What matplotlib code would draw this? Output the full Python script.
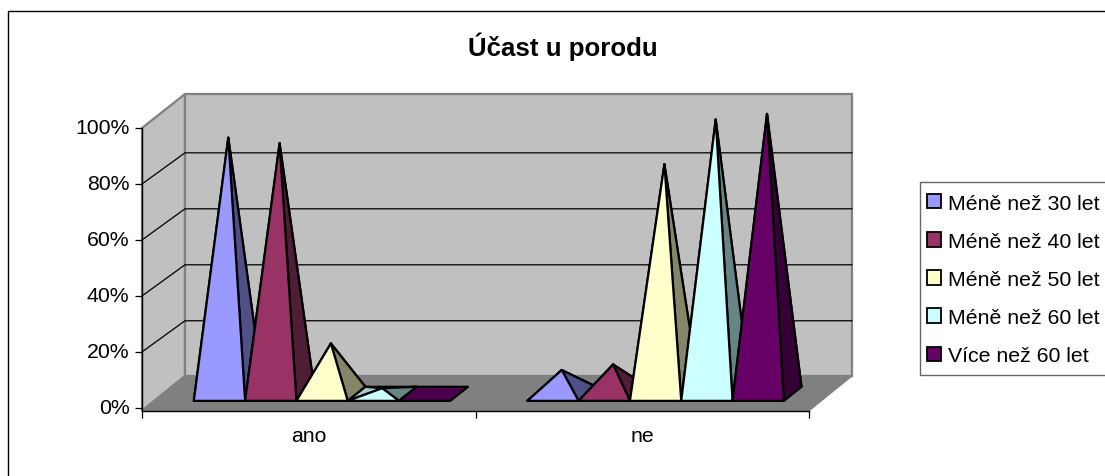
import matplotlib
matplotlib.use('Agg')
import matplotlib.pyplot as plt
from matplotlib.lines import Line2D
from matplotlib.patches import Patch, Polygon, Rectangle
from matplotlib.transforms import ScaledTranslation

plt.rcParams['font.family'] = ['Liberation Sans', 'DejaVu Sans']

# data
categories = ['ano', 'ne']
series = ['Méně než 30 let', 'Méně než 40 let', 'Méně než 50 let',
          'Méně než 60 let', 'Více než 60 let']
ano = [91.5, 89.5, 18, 2, 0]
ne = [8.5, 10.5, 82, 98, 100]
y_ticks = [0, 20, 40, 60, 80, 100]
y_labels = ['0%', '20%', '40%', '60%', '80%', '100%']

# front, right side and left side colours of each series
front = ['#9999FF', '#993366', '#FFFFCC', '#CCFFFF', '#660066']
right = ['#4F5085', '#4F1D36', '#85856A', '#688585', '#350035']
left = ['#7A7ACC', '#7A2952', '#CCCCA3', '#A3CCCC', '#520052']
flat = ['#9999FF', '#993366', '#FFFFCC', '#CCFFFF', '#4B004B']

W, H = 1105, 477
fig = plt.figure(figsize=(W/100, H/100), dpi=100, facecolor='white')

# chart border, only top and left are inside the picture
fig.add_artist(Line2D([7.5/W, 7.5/W, 1], [0, 1-12/H, 1-12/H],
                      transform=fig.transFigure, color='black', lw=1.0))

ax = fig.add_axes([142/W, (H-411.7)/H, 667/W, 282.7/H])
ax.set_xlim(0, 2)
ax.set_ylim(-1, 100)
ax.patch.set_alpha(0)

# depth of the 3D box in data units
dx = 43/333.5
dy = 32/2.8
top = 100 + dy + 0.7

ax.add_patch(Polygon([(0, -1), (dx, dy), (dx, top), (0, 100)], closed=True, fc='#C0C0C0',
                     ec='#808080', lw=1.6, clip_on=False, zorder=1))
ax.add_patch(Polygon([(dx, dy), (2+dx, dy), (2+dx, top), (dx, top)], closed=True, fc='#C0C0C0',
                     ec='#808080', lw=1.6, clip_on=False, zorder=1))
ax.add_patch(Polygon([(0, -1), (2, -1), (2+dx, dy), (dx, dy)], closed=True, fc='#808080',
                     ec='#808080', lw=1.0, clip_on=False, zorder=2))

for v in y_ticks[1:-1]:
    ax.plot([0, dx, 2+dx], [v, v+dy-0.3, v+dy-0.3], color='black', lw=0.9, clip_on=False, zorder=3)

# pyramids
w = 1/6.5
gap = 0.75*w
z = 4
for i, vals in enumerate([ano, ne]):
    for j, v in enumerate(vals):
        x0 = i + gap + j*w + 0.31*dx
        x1 = x0 + w
        y0 = 0.22*dy
        bx = 0.41*dx
        by = 0.44*dy
        fl = (x0, y0)
        fr = (x1, y0)
        br = (x1+bx, y0+by)
        bl = (x0+bx, y0+by)
        apex = ((x0+x1+bx)/2, y0+by/2+v)
        if v == 0:
            faces = [([fl, fr, br, bl], flat[j])]
        else:
            faces = [([bl, br, apex], right[j]), ([bl, fl, apex], left[j]),
                     ([fr, br, apex], right[j]), ([fl, fr, apex], front[j])]
        for pts, col in faces:
            ax.add_patch(Polygon(pts, closed=True, fc=col, ec='black', lw=1.6,
                                 joinstyle='round', clip_on=False, zorder=z))
            z += 1

# axes
ax.spines['top'].set_visible(False)
ax.spines['right'].set_visible(False)
ax.spines['left'].set_zorder(100)
ax.spines['bottom'].set_zorder(100)
ax.spines['left'].set_linewidth(1.0)
ax.spines['bottom'].set_linewidth(1.0)
ax.set_yticks(y_ticks)
ax.set_yticklabels(y_labels, fontsize=15.3)
ax.set_xticks([0, 1, 2])
ax.set_xticklabels([])
ax.tick_params(axis='both', length=5, width=0.9, pad=4)
shift = ScaledTranslation(0, 2/100, fig.dpi_scale_trans)
for t in ax.get_yticklabels():
    t.set_transform(t.get_transform() + shift)
for i, c in enumerate(categories):
    ax.text(i + 0.5, -6.3, c, fontsize=15.3, ha='center', va='top', clip_on=False)

fig.text(562.5/W, 1-47/H, 'Účast u porodu', fontsize=18.6, fontweight='bold', ha='center', va='center')

# legend box runs past the right edge of the picture
fig.add_artist(Rectangle((919.5/W, 1-376/H), 200/W, 193/H, transform=fig.transFigure,
                         fc='white', ec='#666666', lw=1.0))
handles = [Patch(fc=front[k], ec='black', lw=1.3) for k in range(5)]
leg = fig.legend(handles, series, loc='upper left', bbox_to_anchor=(915.5/W, 1-183/H),
                 bbox_transform=fig.transFigure, fontsize=15.3, frameon=False,
                 borderaxespad=0, borderpad=0.55,
                 handlelength=0.66, handleheight=0.66, handletextpad=0.33, labelspacing=0.9)

fig.savefig('out.png', dpi=100)
